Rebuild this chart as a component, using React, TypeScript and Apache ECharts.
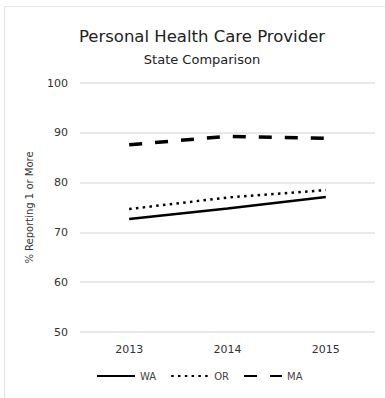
import React, { useEffect, useRef } from "react";
import * as echarts from "echarts";

const categories = ["2013", "2014", "2015"];
const waValues = [72.7, 74.8, 77.1];
const orValues = [74.7, 77.0, 78.5];
const maValues = [87.6, 89.3, 88.9];
const seriesNames = ["WA", "OR", "MA"];

const FONT = "'DejaVu Sans', 'Noto Sans', sans-serif";

export default function App() {
  const ref = useRef<HTMLDivElement>(null);
  useEffect(() => {
    document.body.style.margin = "0";
    const chart = echarts.init(ref.current!, null, { renderer: "svg" });
    chart.setOption({
      animation: false,
      backgroundColor: "#ffffff",
      textStyle: { fontFamily: FONT },
      title: [
        {
          text: "Personal Health Care Provider",
          left: 197,
          top: 23,
          textAlign: "center",
          textStyle: { fontSize: 16.5, fontWeight: "normal", color: "#222", fontFamily: FONT },
        },
        {
          text: "State Comparison",
          left: 197,
          top: 48,
          textAlign: "center",
          textStyle: { fontSize: 13, fontWeight: "normal", color: "#222", fontFamily: FONT },
        },
      ],
      graphic: [
        {
          type: "rect",
          shape: { x: 4.5, y: 6.5, width: 400, height: 400 },
          style: { fill: "none", stroke: "#e4e4e4", lineWidth: 1 },
          silent: true,
        },
      ],
      grid: { left: 80, right: 10, top: 83, bottom: 66 },
      legend: {
        data: seriesNames,
        bottom: 12,
        left: 91,
        itemWidth: 38,
        itemHeight: 12,
        itemGap: 14,
        itemStyle: { color: "transparent", borderWidth: 0, opacity: 0 },
        textStyle: { fontSize: 10, color: "#444", fontFamily: FONT },
      },
      xAxis: {
        type: "category",
        data: categories,
        boundaryGap: true,
        axisLine: { show: false },
        axisTick: { show: false },
        axisLabel: { fontSize: 11, color: "#333", margin: 12, fontFamily: FONT },
      },
      yAxis: {
        type: "value",
        min: 50,
        max: 100,
        interval: 10,
        name: "% Reporting 1 or More",
        nameLocation: "middle",
        nameGap: 46,
        nameTextStyle: { fontSize: 10, color: "#333", fontFamily: FONT },
        axisLine: { show: false },
        axisTick: { show: false },
        axisLabel: { fontSize: 11, color: "#333", margin: 12, fontFamily: FONT },
        splitLine: { lineStyle: { color: "#e2e2e2", width: 1.5 } },
      },
      series: [
        {
          name: "WA",
          type: "line",
          data: waValues,
          symbol: "none",
          lineStyle: { color: "#000", width: 2.5, type: "solid" },
          itemStyle: { color: "#000" },
        },
        {
          name: "OR",
          type: "line",
          data: orValues,
          symbol: "none",
          lineStyle: { color: "#000", width: 2.5, type: [2.5, 4.3], cap: "butt" },
          itemStyle: { color: "#000" },
        },
        {
          name: "MA",
          type: "line",
          data: maValues,
          symbol: "none",
          lineStyle: { color: "#000", width: 3.5, type: [13, 13], cap: "butt" },
          itemStyle: { color: "#000" },
        },
      ],
    });
    return () => chart.dispose();
  }, []);
  return <div ref={ref} style={{ width: 385, height: 398 }} />;
}
